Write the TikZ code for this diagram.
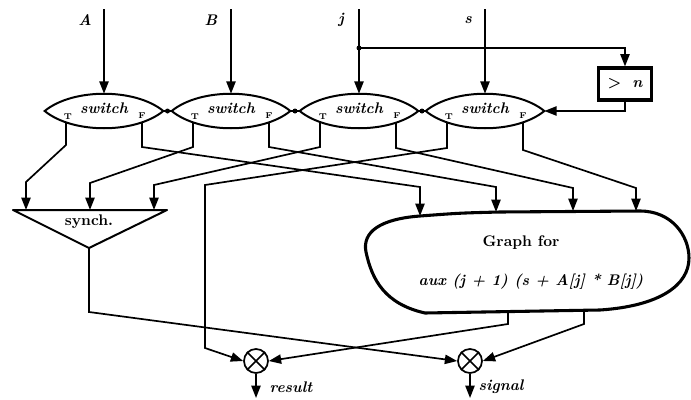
\documentclass[tikz,border=0pt]{standalone}
\usetikzlibrary{arrows.meta,calc,backgrounds}
\pgfdeclarelayer{mid}
\pgfsetlayers{background,mid,main}
\tikzset{
  wire/.style={line width=1.1pt},
  arr/.style={wire,-{Triangle[length=8pt,width=6pt]}},
  lbl/.style={font=\bfseries\itshape},
  swbox/.style={minimum width=76.7pt,minimum height=22.1pt,inner sep=0pt},
  tf/.style={font=\fontsize{5.5}{6}\selectfont\bfseries,inner sep=0pt},
  lens/.style={line width=1.3pt,fill=white,line join=miter},
  xcirc/.style={circle,draw,line width=1.1pt,minimum size=15.6pt,inner sep=0pt},
  thickout/.style={line width=2pt},
}
\begin{document}
\begin{tikzpicture}[x=0.65pt,y=-0.65pt]
\useasboundingbox (0,0) rectangle (691,399);

% switches
\foreach \n/\cx in {1/104,2/231,3/359,4/485} {
  \node[swbox] (s\n) at (\cx,111) {};
  \begin{pgfonlayer}{mid}
  \draw[lens] (s\n.west)
     .. controls ($(s\n.west)+(28,-23)$) and ($(s\n.east)+(-28,-23)$) .. (s\n.east)
     .. controls ($(s\n.east)+(-28,23)$) and ($(s\n.west)+(28,23)$) .. (s\n.west) -- cycle;
  \end{pgfonlayer}
  \node[lbl] (sw\n) at ($(s\n)+(0,-3)$) {switch};
  \node[tf] (t\n) at ($(s\n)+(-36,6)$) {T};
  \node[tf] (f\n) at ($(s\n)+(38,5)$) {F};
}

% links between switches
\foreach \a/\b in {1/2,2/3,3/4} {
  \draw[wire] (s\b.west) -- (s\a.east);
  \fill ($(s\a.east)!0.5!(s\b.west)$) circle (2.5);
}

% inputs
\node[lbl] (lA) at (85,20) {A};
\node[lbl] (lB) at (211,20) {B};
\node[lbl] (lj) at (341,20) {j};
\node[lbl] (ls) at (468,20) {s};
\coordinate (inA) at (104,9);
\coordinate (inB) at (231,9);
\coordinate (inj) at (359,9);
\coordinate (ins) at (485,9);
\draw[arr] (inA) -- (s1.north);
\draw[arr] (inB) -- (s2.north);
\draw[arr] (inj) -- (s3.north);
\draw[arr] (ins) -- (s4.north);

% > n box
\node[draw,thickout,minimum width=34.5pt,minimum height=20.8pt,inner sep=0pt] (gt) at (625,84)
  {\bfseries >\hspace{7pt}{\itshape n}};
\coordinate (jd) at (359,48);
\fill (jd) circle (2.5);
\draw[arr] (jd) -| (gt.north);
\draw[arr] (gt.south) |- (s4.east);

% synch
\coordinate (syL) at (13,210);
\coordinate (syR) at (167,210);
\coordinate (syapex) at (89,248);
\draw[line width=1.3pt,line join=round] (syL) -- (syR) -- (syapex) -- cycle;
\node[font=\bfseries] (sy) at (89,222) {synch.};
\coordinate (sy1) at (26,210);
\coordinate (sy2) at (90,210);
\coordinate (sy3) at (154,210);

% graph blob
\draw[thickout,line join=round]
  (420,216) .. controls (460,213) .. (500,212) -- (640,211)
  .. controls (672,211) and (689,236) .. (689,258)
  .. controls (689,285) and (660,306) .. (600,310)
  -- (425,313)
  .. controls (385,304) and (372,280) .. (366,252)
  .. controls (362,232) and (380,219) .. (420,216) -- cycle;
\node[font=\bfseries] (gr1) at (521,243) {Graph for};
\node[lbl] (gr2) at (531,282) {aux (j + 1) (s + A[j] * B[j])};
\coordinate (g1) at (420,216);
\coordinate (g2) at (496,212);
\coordinate (g3) at (573,211);
\coordinate (g4) at (636,211);
\coordinate (go1) at (508,312);
\coordinate (go2) at (584,311);

% merge circles
\node[xcirc] (res) at (256,361) {};
\node[xcirc] (sig) at (470,361) {};
\draw[wire] (res.north west) -- (res.south east) (res.north east) -- (res.south west);
\draw[wire] (sig.north west) -- (sig.south east) (sig.north east) -- (sig.south west);
\coordinate (resout) at (256,398);
\coordinate (sigout) at (470,398);
\draw[arr] (res.south) -- (resout);
\draw[arr] (sig.south) -- (sigout);
\node[lbl] (lres) at (291,387) {result};
\node[lbl] (lsig) at (501,387) {signal};

% switch outputs
\begin{pgfonlayer}{background}
\draw[arr] ($(s1)+(-38,0)$) -- ++(0,34) -- (26,182) -- (sy1);
\draw[arr] ($(s2)+(-38,0)$) -- ++(0,36) -- (90,183) -- (sy2);
\draw[arr] ($(s3)+(-39,0)$) -- ++(0,36) -- (154,185) -- (sy3);
\draw[arr] ($(s4)+(-38,0)$) -- ++(0,37) -- (205,185) -- (205,348) -- (res.west);
\draw[arr] ($(s1)+(38,0)$) -- ++(0,36) -- (420,187) -- (g1);
\draw[arr] ($(s2)+(38,0)$) -- ++(0,36) -- (496,187) -- (g2);
\draw[arr] ($(s3)+(37,0)$) -- ++(0,37) -- (573,188) -- (g3);
\draw[arr] ($(s4)+(38,0)$) -- ++(0,39) -- (636,188) -- (g4);
\end{pgfonlayer}

% outputs to merges
\draw[arr] (syapex) -- (89,312) -- (sig.west);
\draw[arr] (go1) -- (508,324) -- (res.east);
\draw[arr] (go2) -- (584,324) -- (sig.east);
\end{tikzpicture}
\end{document}
